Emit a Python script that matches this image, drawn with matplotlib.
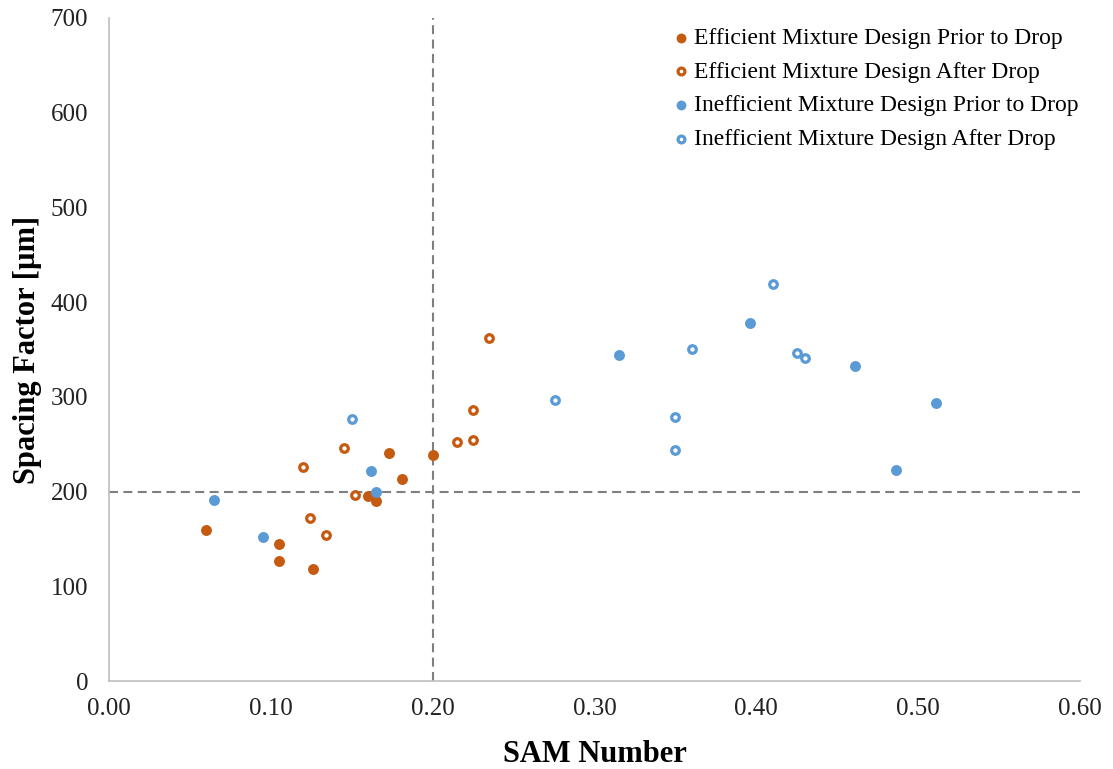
import matplotlib
matplotlib.use("Agg")
import matplotlib.pyplot as plt

plt.rcParams['font.family'] = ['Liberation Serif', 'DejaVu Serif']

# data
eff_prior_x = [0.060, 0.105, 0.105, 0.126, 0.173, 0.181, 0.160, 0.165, 0.200]
eff_prior_y = [159, 145, 127, 118, 241, 213, 195, 190, 239]

eff_after_x = [0.120, 0.145, 0.152, 0.124, 0.134, 0.215, 0.225, 0.225, 0.235]
eff_after_y = [226, 246, 196, 172, 154, 252, 254, 286, 362]

ineff_prior_x = [0.065, 0.095, 0.162, 0.165, 0.315, 0.396, 0.461, 0.486, 0.511]
ineff_prior_y = [191, 152, 222, 200, 344, 378, 333, 223, 294]

ineff_after_x = [0.150, 0.2755, 0.350, 0.350, 0.360, 0.410, 0.425, 0.430]
ineff_after_y = [277, 297, 279, 244, 351, 419, 346, 341]

x_ticks = [0.0, 0.1, 0.2, 0.3, 0.4, 0.5, 0.6]
y_ticks = [0, 100, 200, 300, 400, 500, 600, 700]
sam_limit = 0.20
spacing_limit = 200

orange = '#C55A11'
blue = '#5B9BD5'

fig = plt.figure(figsize=(11.13, 7.69), dpi=100)
ax = fig.add_axes([109 / 1113, 1 - 681 / 769, 971 / 1113, 663 / 769])

ax.axhline(spacing_limit, color='#7f7f7f', ls=(0, (4.3, 2.6)), lw=1.5, zorder=1)
ax.axvline(sam_limit, color='#7f7f7f', ls=(0, (4.3, 2.6)), lw=1.5, zorder=1)

ax.scatter(eff_prior_x, eff_prior_y, s=62, color=orange, lw=0,
           label='Efficient Mixture Design Prior to Drop', zorder=3)
ax.scatter(eff_after_x, eff_after_y, s=30, facecolor='white', edgecolor=orange,
           lw=2.3, label='Efficient Mixture Design After Drop', zorder=3)
ax.scatter(ineff_prior_x, ineff_prior_y, s=62, color=blue, lw=0,
           label='Inefficient Mixture Design Prior to Drop', zorder=3)
ax.scatter(ineff_after_x, ineff_after_y, s=30, facecolor='white', edgecolor=blue,
           lw=2.3, label='Inefficient Mixture Design After Drop', zorder=3)

ax.set_xlim(0, 0.6)
ax.set_ylim(0, 700)
ax.set_xticks(x_ticks)
ax.set_xticklabels([f'{t:.2f}' for t in x_ticks])
ax.set_yticks(y_ticks)
ax.tick_params(length=0, labelsize=18, colors='#222222')
ax.tick_params(axis='x', pad=12)
ax.tick_params(axis='y', pad=15)

for side in ['top', 'right']:
    ax.spines[side].set_visible(False)
for side in ['left', 'bottom']:
    ax.spines[side].set_color('#bfbfbf')
    ax.spines[side].set_linewidth(1.2)

ax.set_xlabel('SAM Number', fontsize=22, fontweight='bold', labelpad=15)
ax.set_ylabel('Spacing Factor [µm]', fontsize=22, fontweight='bold', labelpad=6)

ax.legend(loc='upper right', bbox_to_anchor=(1.02, 1.018), frameon=False,
          fontsize=17, markerscale=0.9, handletextpad=0.0, labelspacing=0.52,
          handlelength=1.1)

fig.savefig('out.png', dpi=100)
